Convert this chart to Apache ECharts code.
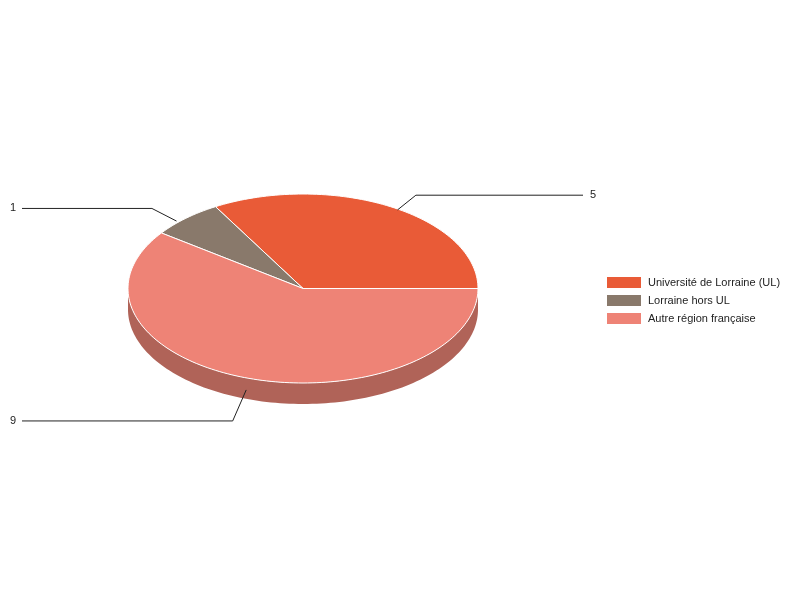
<!DOCTYPE html>
<html>
<head>
<meta charset="utf-8">
<script src="https://cdn.jsdelivr.net/npm/echarts@6/dist/echarts.min.js"></script>
<style>html,body{margin:0;padding:0;background:#fff}#c{width:800px;height:600px}</style>
</head>
<body>
<div id="c"></div>
<script>
// ---- data ----
var categories = ['Université de Lorraine (UL)', 'Lorraine hors UL', 'Autre région française'];
var values = [5, 1, 9];
var colors = ['#e95b37', '#89796b', '#ee8376'];
var sideColors = ['#a8412a', '#62574d', '#b06358'];

// ---- layout (style constants) ----
var CX = 303, CY = 288.5, RX = 175, RY = 94.5, DEPTH = 21;
var FONT = '11px "Liberation Sans", Arial, sans-serif';

var total = values.reduce(function (a, b) { return a + b; }, 0);
var starts = [];
(function () { var acc = 0; for (var i = 0; i < values.length; i++) { starts.push(acc / total * 360); acc += values[i]; } })();

function pt(deg, rx, ry, dy) {
  var a = deg * Math.PI / 180;
  return [CX + RX * rx * Math.cos(a), CY - RY * ry * Math.sin(a) + (dy || 0)];
}
function arc(a0, a1, dy) {
  var pts = [], n = Math.max(2, Math.ceil(Math.abs(a1 - a0) / 1.5));
  for (var k = 0; k <= n; k++) pts.push(pt(a0 + (a1 - a0) * k / n, 1, 1, dy));
  return pts;
}

function topRender(i) {
  return function (params, api) {
    var v = api.value(0);
    var a0 = starts[i], a1 = a0 + v / total * 360;
    var pts = [[CX, CY]].concat(arc(a0, a1, 0));
    var m = (a0 + a1) / 2;
    var front = Math.sin(m * Math.PI / 180) < 0;
    var s = front ? pt(m, 1.05, 1.0, DEPTH * 0.55) : pt(m, 1.08, 0.96, 0);
    var e = front ? pt(m, 1.3, 1.24, DEPTH) : pt(m, 1.29, 1.14, 0);
    var right = Math.cos(m * Math.PI / 180) > 0;
    var endX = right ? 583 : 22;
    var textX = right ? 590 : 16;
    return {
      type: 'group',
      children: [
        { type: 'polygon', shape: { points: pts }, style: { fill: colors[i], stroke: '#ffffff', lineWidth: 1 } },
        { type: 'polyline', shape: { points: [s, e, [endX, e[1]]] }, style: { stroke: '#222222', lineWidth: 1, fill: null } },
        { type: 'text', style: { text: String(v), x: textX, y: e[1], textAlign: right ? 'left' : 'right', textVerticalAlign: 'middle', font: FONT, fill: '#222222' } }
      ]
    };
  };
}

function sideRender(params, api) {
  var i = params.dataIndex;
  var v = api.value(0);
  var a0 = starts[i], a1 = a0 + v / total * 360;
  var s = Math.max(a0, 180), e = Math.min(a1, 360);
  if (e <= s) return null;
  var pts = arc(s, e, 0).concat(arc(e, s, DEPTH));
  return { type: 'polygon', shape: { points: pts }, style: { fill: sideColors[i], stroke: null } };
}

var series = [{
  type: 'custom', name: 'sides', coordinateSystem: 'none', z: 1,
  data: values.map(function (v) { return [v]; }),
  renderItem: sideRender, silent: true
}];
categories.forEach(function (name, i) {
  series.push({
    type: 'custom', name: name, coordinateSystem: 'none', z: 2,
    itemStyle: { color: colors[i] },
    data: [[values[i]]],
    renderItem: topRender(i)
  });
});

var chart = echarts.init(document.getElementById('c'));
chart.setOption({
  animation: false,
  backgroundColor: '#ffffff',
  legend: {
    data: categories,
    orient: 'vertical',
    left: 602, top: 272,
    icon: 'rect',
    itemWidth: 34, itemHeight: 11, itemGap: 7,
    selectedMode: false,
    textStyle: { fontSize: 11, fontFamily: '"Liberation Sans", Arial, sans-serif', color: '#222222', padding: [0, 0, 0, 2] }
  },
  series: series
});
</script>
</body>
</html>
